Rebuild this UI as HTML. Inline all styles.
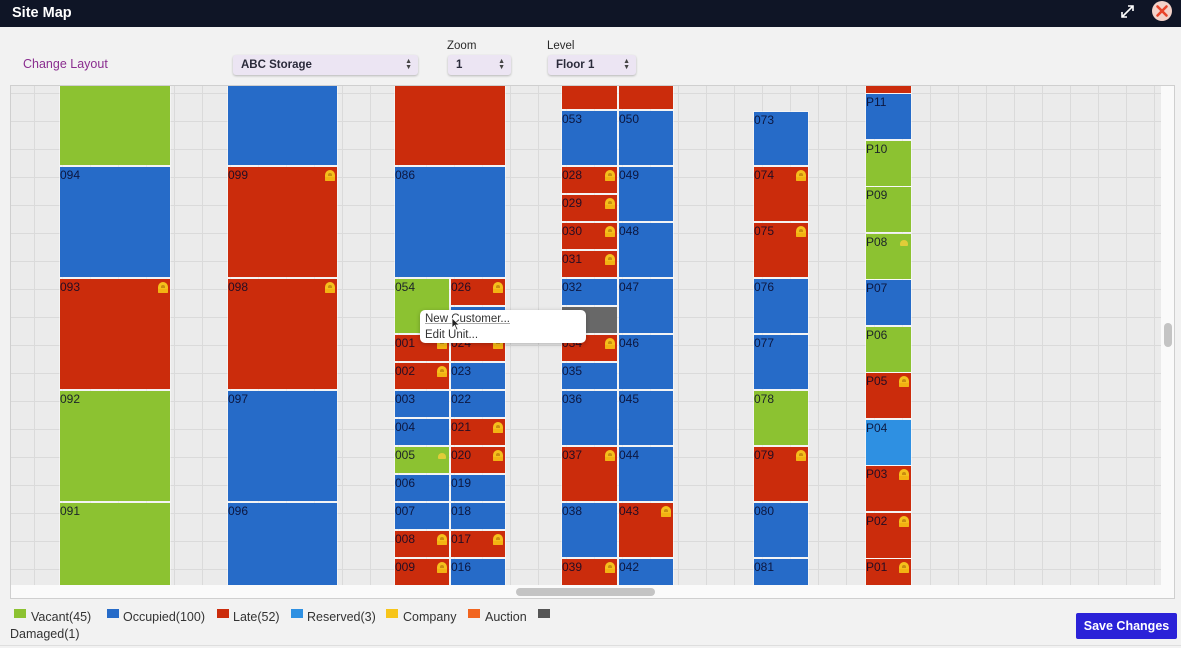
<!DOCTYPE html>
<html style="overflow:hidden;width:1181px;height:648px"><head><meta charset="utf-8"><style>
*{margin:0;padding:0;box-sizing:border-box}
html,body{overflow:hidden}
body{width:1181px;height:648px;background:#f2f2f2;position:relative;font-family:"Liberation Sans",sans-serif}
.hd{position:absolute;left:0;top:0;width:1181px;height:27px;background:#0f1526}
.ttl{position:absolute;left:12px;top:4px;color:#fff;font-weight:bold;font-size:14.5px;line-height:18px}
.abs{position:absolute}
.lbl{position:absolute;font-size:12px;color:#2a2a2a;line-height:14px}
.sel{position:absolute;height:20px;background:#ece5f3;border-radius:3px;box-shadow:0 1px 2px rgba(0,0,0,.25);font-size:11.5px;font-weight:bold;color:#2a2a3a;line-height:20px;padding-left:8px}
.sel i{position:absolute;right:6px;top:4px;font-style:normal;font-size:7px;line-height:6px;color:#444}
.map{position:absolute;left:10px;top:85px;width:1165px;height:514px;border:1px solid #cfcfcf;background:#fafafa}
.clip{position:absolute;left:11px;top:86px;width:1150px;height:499px;overflow:hidden}
.grid{position:absolute;left:-11px;top:-86px;width:1181px;height:600px;background-color:#ebebeb;background-image:linear-gradient(to right,#dadada 1px,transparent 1px),linear-gradient(to bottom,#dadada 1px,transparent 1px);background-size:28px 28px;background-position:6px 9px}
.u{position:absolute;font-size:12px;line-height:12px;color:rgba(8,8,40,.85);padding:2px 0 0 0;overflow:hidden;box-shadow:0 0 0 1px rgba(255,255,255,.45)}
.g{background:#8cc231}.b{background:#266bc8}.r{background:#cb2c0c}.s{background:#2e90e2}.d{background:#686868}
.k{position:absolute;right:2px;top:3px;width:10px;height:11px;background:#f5c01c;border-radius:5px 5px 1px 1px;box-shadow:inset 0 -4px 0 #f3b312}
.k::after{content:"";position:absolute;left:3px;top:3px;width:4px;height:3px;background:#c98c10;border-radius:2px 2px 0 0}
.c{position:absolute;right:3px;top:6px;width:8px;height:6px;background:#f0cf3a;border-radius:4px 4px 1px 1px;opacity:.85}
.lg{position:absolute;top:609px;width:12px;height:9px}
.lt{position:absolute;top:610px;font-size:12.5px;color:#333;line-height:15px}
</style></head><body>
<div class="hd"><div class="ttl">Site Map</div>
<svg class="abs" style="left:1119px;top:3px" width="17" height="17" viewBox="0 0 17 17"><g stroke="#fff" stroke-width="1.6" fill="none"><line x1="3" y1="14" x2="14" y2="3"/><polyline points="9,3 14,3 14,8"/><polyline points="3,9 3,14 8,14"/></g></svg>
<svg class="abs" style="left:1151px;top:0px" width="22" height="22" viewBox="0 0 22 22"><circle cx="11" cy="11" r="10" fill="#f3d2c9"/><g stroke="#e8442a" stroke-width="2.6" stroke-linecap="round"><line x1="6.5" y1="6.5" x2="15.5" y2="15.5"/><line x1="15.5" y1="6.5" x2="6.5" y2="15.5"/></g></svg>
</div>

<div class="lbl" style="left:23px;top:57px;color:#8a2d8f;font-size:12.5px">Change Layout</div>
<div class="sel" style="left:233px;top:55px;width:185px">ABC Storage<i>▲<br>▼</i></div>
<div class="lbl" style="left:447px;top:39px;font-size:11.5px">Zoom</div>
<div class="sel" style="left:448px;top:55px;width:63px">1<i>▲<br>▼</i></div>
<div class="lbl" style="left:547px;top:39px;font-size:11.5px">Level</div>
<div class="sel" style="left:548px;top:55px;width:88px">Floor 1<i>▲<br>▼</i></div>

<div class="map"></div>
<div class="clip"><div class="grid">
<div class="u g" style="left:60px;top:86px;width:110px;height:79px"></div>
<div class="u b" style="left:60px;top:167px;width:110px;height:110px">094</div>
<div class="u r" style="left:60px;top:279px;width:110px;height:110px">093<span class="k"></span></div>
<div class="u g" style="left:60px;top:391px;width:110px;height:110px">092</div>
<div class="u g" style="left:60px;top:503px;width:110px;height:97px">091</div>
<div class="u b" style="left:228px;top:86px;width:109px;height:79px"></div>
<div class="u r" style="left:228px;top:167px;width:109px;height:110px">099<span class="k"></span></div>
<div class="u r" style="left:228px;top:279px;width:109px;height:110px">098<span class="k"></span></div>
<div class="u b" style="left:228px;top:391px;width:109px;height:110px">097</div>
<div class="u b" style="left:228px;top:503px;width:109px;height:97px">096</div>
<div class="u r" style="left:395px;top:86px;width:110px;height:79px"></div>
<div class="u b" style="left:395px;top:167px;width:110px;height:110px">086</div>
<div class="u g" style="left:395px;top:279px;width:54px;height:54px">054</div>
<div class="u r" style="left:395px;top:335px;width:54px;height:26px">001<span class="k"></span></div>
<div class="u r" style="left:395px;top:363px;width:54px;height:26px">002<span class="k"></span></div>
<div class="u b" style="left:395px;top:391px;width:54px;height:26px">003</div>
<div class="u b" style="left:395px;top:419px;width:54px;height:26px">004</div>
<div class="u g" style="left:395px;top:447px;width:54px;height:26px">005<span class="c"></span></div>
<div class="u b" style="left:395px;top:475px;width:54px;height:26px">006</div>
<div class="u b" style="left:395px;top:503px;width:54px;height:26px">007</div>
<div class="u r" style="left:395px;top:531px;width:54px;height:26px">008<span class="k"></span></div>
<div class="u r" style="left:395px;top:559px;width:54px;height:30px">009<span class="k"></span></div>
<div class="u r" style="left:451px;top:279px;width:54px;height:26px">026<span class="k"></span></div>
<div class="u b" style="left:451px;top:307px;width:54px;height:26px">025</div>
<div class="u r" style="left:451px;top:335px;width:54px;height:26px">024<span class="k"></span></div>
<div class="u b" style="left:451px;top:363px;width:54px;height:26px">023</div>
<div class="u b" style="left:451px;top:391px;width:54px;height:26px">022</div>
<div class="u r" style="left:451px;top:419px;width:54px;height:26px">021<span class="k"></span></div>
<div class="u r" style="left:451px;top:447px;width:54px;height:26px">020<span class="k"></span></div>
<div class="u b" style="left:451px;top:475px;width:54px;height:26px">019</div>
<div class="u b" style="left:451px;top:503px;width:54px;height:26px">018</div>
<div class="u r" style="left:451px;top:531px;width:54px;height:26px">017<span class="k"></span></div>
<div class="u b" style="left:451px;top:559px;width:54px;height:30px">016</div>
<div class="u r" style="left:562px;top:86px;width:55px;height:23px"></div>
<div class="u b" style="left:562px;top:111px;width:55px;height:54px">053</div>
<div class="u r" style="left:562px;top:167px;width:55px;height:26px">028<span class="k"></span></div>
<div class="u r" style="left:562px;top:195px;width:55px;height:26px">029<span class="k"></span></div>
<div class="u r" style="left:562px;top:223px;width:55px;height:26px">030<span class="k"></span></div>
<div class="u r" style="left:562px;top:251px;width:55px;height:26px">031<span class="k"></span></div>
<div class="u b" style="left:562px;top:279px;width:55px;height:26px">032</div>
<div class="u d" style="left:562px;top:307px;width:55px;height:26px"></div>
<div class="u r" style="left:562px;top:335px;width:55px;height:26px">034<span class="k"></span></div>
<div class="u b" style="left:562px;top:363px;width:55px;height:26px">035</div>
<div class="u b" style="left:562px;top:391px;width:55px;height:54px">036</div>
<div class="u r" style="left:562px;top:447px;width:55px;height:54px">037<span class="k"></span></div>
<div class="u b" style="left:562px;top:503px;width:55px;height:54px">038</div>
<div class="u r" style="left:562px;top:559px;width:55px;height:30px">039<span class="k"></span></div>
<div class="u r" style="left:619px;top:86px;width:54px;height:23px"></div>
<div class="u b" style="left:619px;top:111px;width:54px;height:54px">050</div>
<div class="u b" style="left:619px;top:167px;width:54px;height:54px">049</div>
<div class="u b" style="left:619px;top:223px;width:54px;height:54px">048</div>
<div class="u b" style="left:619px;top:279px;width:54px;height:54px">047</div>
<div class="u b" style="left:619px;top:335px;width:54px;height:54px">046</div>
<div class="u b" style="left:619px;top:391px;width:54px;height:54px">045</div>
<div class="u b" style="left:619px;top:447px;width:54px;height:54px">044</div>
<div class="u r" style="left:619px;top:503px;width:54px;height:54px">043<span class="k"></span></div>
<div class="u b" style="left:619px;top:559px;width:54px;height:30px">042</div>
<div class="u b" style="left:754px;top:112px;width:54px;height:53px">073</div>
<div class="u r" style="left:754px;top:167px;width:54px;height:54px">074<span class="k"></span></div>
<div class="u r" style="left:754px;top:223px;width:54px;height:54px">075<span class="k"></span></div>
<div class="u b" style="left:754px;top:279px;width:54px;height:54px">076</div>
<div class="u b" style="left:754px;top:335px;width:54px;height:54px">077</div>
<div class="u g" style="left:754px;top:391px;width:54px;height:54px">078</div>
<div class="u r" style="left:754px;top:447px;width:54px;height:54px">079<span class="k"></span></div>
<div class="u b" style="left:754px;top:503px;width:54px;height:54px">080</div>
<div class="u b" style="left:754px;top:559px;width:54px;height:30px">081</div>
<div class="u r" style="left:866px;top:86px;width:45px;height:7px"></div>
<div class="u b" style="left:866px;top:94px;width:45px;height:45px">P11</div>
<div class="u g" style="left:866px;top:141px;width:45px;height:45px">P10</div>
<div class="u g" style="left:866px;top:187px;width:45px;height:45px">P09</div>
<div class="u g" style="left:866px;top:234px;width:45px;height:45px">P08<span class="c"></span></div>
<div class="u b" style="left:866px;top:280px;width:45px;height:45px">P07</div>
<div class="u g" style="left:866px;top:327px;width:45px;height:45px">P06</div>
<div class="u r" style="left:866px;top:373px;width:45px;height:45px">P05<span class="k"></span></div>
<div class="u s" style="left:866px;top:420px;width:45px;height:45px">P04</div>
<div class="u r" style="left:866px;top:466px;width:45px;height:45px">P03<span class="k"></span></div>
<div class="u r" style="left:866px;top:513px;width:45px;height:45px">P02<span class="k"></span></div>
<div class="u r" style="left:866px;top:559px;width:45px;height:30px">P01<span class="k"></span></div>
</div></div>

<div class="abs" style="left:516px;top:588px;width:139px;height:8px;background:#c4c4c4;border-radius:4px"></div>
<div class="abs" style="left:1164px;top:323px;width:8px;height:24px;background:#c4c4c4;border-radius:4px"></div>

<div class="abs" style="left:420px;top:310px;width:166px;height:33px;background:#fff;border-radius:5px;box-shadow:0 1px 4px rgba(0,0,0,.25)"></div>
<div class="abs" style="left:425px;top:312px;font-size:11.5px;line-height:14px;color:#333;text-decoration:underline;text-decoration-color:#aaa">New Customer...</div>
<div class="abs" style="left:425px;top:328px;font-size:11.5px;line-height:14px;color:#333">Edit Unit...</div>
<svg class="abs" style="left:451px;top:317px" width="10" height="14" viewBox="0 0 10 14"><polygon points="1,1 1,11 3.5,8.5 5.5,13 7,12.3 5,8 8.5,8" fill="#222" stroke="#fff" stroke-width="0.8"/></svg>

<div class="lg" style="left:14px;background:#8cc231"></div><div class="lt" style="left:31px">Vacant(45)</div>
<div class="lg" style="left:107px;background:#266bc8"></div><div class="lt" style="left:123px">Occupied(100)</div>
<div class="lg" style="left:217px;background:#cb2c0c"></div><div class="lt" style="left:233px">Late(52)</div>
<div class="lg" style="left:291px;background:#2e90e2"></div><div class="lt" style="left:307px">Reserved(3)</div>
<div class="lg" style="left:386px;background:#f7c51a"></div><div class="lt" style="left:403px">Company</div>
<div class="lg" style="left:468px;background:#f2651f"></div><div class="lt" style="left:485px">Auction</div>
<div class="lg" style="left:538px;background:#555"></div>
<div class="lt" style="left:10px;top:627px">Damaged(1)</div>

<div class="abs" style="left:1076px;top:613px;width:101px;height:26px;background:#2b22d8;border-radius:2px;color:#fff;font-weight:bold;font-size:12.5px;line-height:26px;text-align:center">Save Changes</div>
<div class="abs" style="left:0;top:645px;width:1181px;height:1px;background:#dedede"></div>
</body></html>
